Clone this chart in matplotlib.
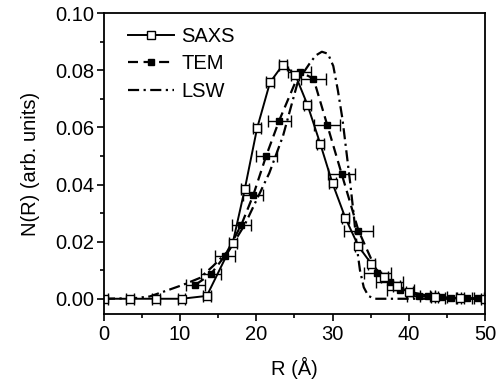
import numpy as np
import matplotlib
matplotlib.use('Agg')
import matplotlib.pyplot as plt
from matplotlib.ticker import MultipleLocator
from matplotlib.lines import Line2D

###############################################
# Data
###############################################
saxs_r = [0.0, 3.4, 6.8, 10.2, 13.5, 16.9, 18.5, 20.1, 21.8, 23.5, 25.1, 26.7,
          28.4, 30.0, 31.7, 33.4, 35.1, 36.8, 38.4, 40.1, 43.4, 46.7, 50.0]
saxs_n = [0.0, 0.0, 0.0, 0.0, 0.001, 0.0195, 0.0386, 0.0597, 0.0758, 0.0820,
          0.0785, 0.0680, 0.0542, 0.0404, 0.0282, 0.0184, 0.0122, 0.0075,
          0.0043, 0.0025, 0.0006, 0.0001, 0.0]
saxs_err = 0.5

tem_r = [12.0, 14.0, 15.9, 18.05, 19.6, 21.3, 23.0, 25.7, 27.5, 29.3, 31.2,
         33.4, 35.9, 37.5, 38.9, 41.3, 42.5, 44.2, 45.5, 47.7, 49.1]
tem_n = [0.0049, 0.0085, 0.0151, 0.0260, 0.0363, 0.0501, 0.0624, 0.0795,
         0.0771, 0.0609, 0.0437, 0.0239, 0.0090, 0.0057, 0.0032, 0.0011,
         0.0008, 0.0005, 0.0003, 0.0002, 0.0001]
tem_err = [1.2, 1.3, 1.3, 1.3, 1.3, 1.4, 1.5, 1.5, 1.6, 1.7, 1.8, 1.9, 1.8,
           1.8, 1.8, 1.5, 1.0, 0.8, 0.8, 0.8, 0.8]

lsw_r = [0.0, 4.0, 6.0, 8.6, 10.4, 12.6, 14.3, 16.5, 18.5, 20.9, 21.7, 23.5,
         25.5, 27.0, 27.8, 28.6, 29.4, 30.1, 30.7, 31.3, 31.8, 32.3, 32.8,
         33.2, 33.6, 34.1, 34.7, 35.5, 50.0]
lsw_n = [0.0, 0.0002, 0.0008, 0.0032, 0.0049, 0.0073, 0.0114, 0.0173, 0.0260,
         0.0395, 0.0440, 0.0570, 0.0765, 0.0824, 0.0852, 0.0865, 0.0858,
         0.0815, 0.0730, 0.0630, 0.0520, 0.0410, 0.0290, 0.0180, 0.0100,
         0.0040, 0.0010, 0.0, 0.0]

###############################################
# Plot
###############################################
plt.rcParams['font.family'] = ['Liberation Sans', 'DejaVu Sans']
fs = 14.5

fig = plt.figure(figsize=(5.02, 3.88), dpi=100)
ax = fig.add_axes([0.207, 0.191, 0.759, 0.775])

lsw_ls = (0, (5, 2, 1, 2))
tem_ls = (0, (4.5, 2.5))

ax.plot(lsw_r, lsw_n, color='black', lw=1.6, ls=lsw_ls)
ax.errorbar(tem_r, tem_n, xerr=tem_err, color='black', lw=1.6, ls=tem_ls,
            marker='s', ms=5, mfc='black', mec='black',
            elinewidth=1, capsize=4, capthick=1)
ax.errorbar(saxs_r, saxs_n, xerr=saxs_err, color='black', lw=1.4, ls='-',
            marker='s', ms=5.5, mfc='white', mec='black', mew=1,
            elinewidth=1, capsize=4, capthick=1)

ax.set_xlim(0, 50)
ax.set_ylim(-0.0053, 0.1)
ax.xaxis.set_major_locator(MultipleLocator(10))
ax.xaxis.set_minor_locator(MultipleLocator(5))
ax.yaxis.set_major_locator(MultipleLocator(0.02))
ax.yaxis.set_minor_locator(MultipleLocator(0.01))
ax.yaxis.set_major_formatter(plt.FormatStrFormatter('%.2f'))
ax.tick_params(which='both', direction='out', top=False, right=False,
               labelsize=fs, width=1.2)
ax.tick_params(which='major', length=5)
ax.tick_params(axis='x', which='major', pad=3)
ax.tick_params(axis='y', which='major', pad=2)
ax.tick_params(which='minor', length=3)
for sp in ax.spines.values():
	sp.set_linewidth(1.3)

ax.set_xlabel('R (Å)', fontsize=fs, labelpad=9)
ax.set_ylabel('N(R) (arb. units)', fontsize=fs, labelpad=11)

# legend in SAXS, TEM, LSW order
handles = [
	Line2D([], [], color='black', lw=1.4, marker='s', ms=5.5, mfc='white', mec='black'),
	Line2D([], [], color='black', lw=1.6, ls=tem_ls, marker='s', ms=5, mfc='black'),
	Line2D([], [], color='black', lw=1.6, ls=lsw_ls),
]
ax.legend(handles, ['SAXS', 'TEM', 'LSW'], loc='upper left', frameon=False,
          fontsize=fs, handlelength=2.3, handletextpad=0.35, labelspacing=0.42,
          borderaxespad=0, borderpad=0, bbox_to_anchor=(0.063, 0.955))

plt.savefig('out.png', dpi=100)
